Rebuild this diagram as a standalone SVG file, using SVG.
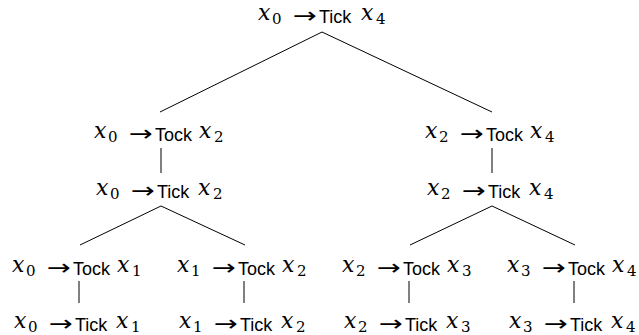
<svg xmlns="http://www.w3.org/2000/svg" width="639" height="335" viewBox="0 0 639 335">
<style>
.v{font-family:'DejaVu Serif','Liberation Serif',serif;font-style:italic;font-size:22px;fill:#000}
.s{font-family:'DejaVu Serif','Liberation Serif',serif;font-size:15px;fill:#000}
.a{font-family:'DejaVu Sans',sans-serif;font-size:22px;fill:#000}
.l{font-family:'Liberation Sans',Arial,sans-serif;font-size:18px;fill:#000}
.e line{stroke:#000;stroke-width:1}
</style>
<rect width="639" height="335" fill="#fff"/>
<g class="e" id="connectors">
<line x1="322" y1="32" x2="160" y2="112"/>
<line x1="322" y1="32" x2="492" y2="112"/>
<line x1="161" y1="148" x2="161" y2="173"/>
<line x1="492" y1="148" x2="492" y2="173"/>
<line x1="161" y1="206" x2="80" y2="245"/>
<line x1="161" y1="206" x2="245" y2="245"/>
<line x1="492" y1="206" x2="410" y2="245"/>
<line x1="492" y1="206" x2="575" y2="245"/>
<line x1="79" y1="281" x2="79" y2="303"/>
<line x1="244" y1="281" x2="244" y2="303"/>
<line x1="409" y1="281" x2="409" y2="303"/>
<line x1="574" y1="281" x2="574" y2="303"/>
</g>
<g id="n0"><text class="s"><tspan class="v" x="258" y="20">x</tspan><tspan class="s" x="272" y="23.5">0</tspan><tspan class="a" x="293" y="22.5" textLength="24" lengthAdjust="spacingAndGlyphs">→</tspan><tspan class="l" x="319" y="23">Tick</tspan><tspan class="v" x="361" y="20">x</tspan><tspan class="s" x="376" y="23.5">4</tspan></text></g>
<g id="n1"><text class="s"><tspan class="v" x="94" y="138">x</tspan><tspan class="s" x="108" y="141.5">0</tspan><tspan class="a" x="129" y="140.5" textLength="24" lengthAdjust="spacingAndGlyphs">→</tspan><tspan class="l" x="155" y="141">Tock</tspan><tspan class="v" x="199" y="138">x</tspan><tspan class="s" x="214" y="141.5">2</tspan></text></g>
<g id="n2"><text class="s"><tspan class="v" x="425" y="138">x</tspan><tspan class="s" x="439" y="141.5">2</tspan><tspan class="a" x="460" y="140.5" textLength="24" lengthAdjust="spacingAndGlyphs">→</tspan><tspan class="l" x="486" y="141">Tock</tspan><tspan class="v" x="530" y="138">x</tspan><tspan class="s" x="545" y="141.5">4</tspan></text></g>
<g id="n3"><text class="s"><tspan class="v" x="96" y="195">x</tspan><tspan class="s" x="110" y="198.5">0</tspan><tspan class="a" x="131" y="197.5" textLength="24" lengthAdjust="spacingAndGlyphs">→</tspan><tspan class="l" x="157" y="198">Tick</tspan><tspan class="v" x="198" y="195">x</tspan><tspan class="s" x="213" y="198.5">2</tspan></text></g>
<g id="n4"><text class="s"><tspan class="v" x="427" y="195">x</tspan><tspan class="s" x="441" y="198.5">2</tspan><tspan class="a" x="462" y="197.5" textLength="24" lengthAdjust="spacingAndGlyphs">→</tspan><tspan class="l" x="488" y="198">Tick</tspan><tspan class="v" x="529" y="195">x</tspan><tspan class="s" x="544" y="198.5">4</tspan></text></g>
<g id="n5"><text class="s"><tspan class="v" x="12" y="272">x</tspan><tspan class="s" x="26" y="275.5">0</tspan><tspan class="a" x="47" y="274.5" textLength="24" lengthAdjust="spacingAndGlyphs">→</tspan><tspan class="l" x="73" y="275">Tock</tspan><tspan class="v" x="117" y="272">x</tspan><tspan class="s" x="132" y="275.5">1</tspan></text></g>
<g id="n6"><text class="s"><tspan class="v" x="177" y="272">x</tspan><tspan class="s" x="191" y="275.5">1</tspan><tspan class="a" x="212" y="274.5" textLength="24" lengthAdjust="spacingAndGlyphs">→</tspan><tspan class="l" x="238" y="275">Tock</tspan><tspan class="v" x="282" y="272">x</tspan><tspan class="s" x="297" y="275.5">2</tspan></text></g>
<g id="n7"><text class="s"><tspan class="v" x="342" y="272">x</tspan><tspan class="s" x="356" y="275.5">2</tspan><tspan class="a" x="377" y="274.5" textLength="24" lengthAdjust="spacingAndGlyphs">→</tspan><tspan class="l" x="403" y="275">Tock</tspan><tspan class="v" x="447" y="272">x</tspan><tspan class="s" x="462" y="275.5">3</tspan></text></g>
<g id="n8"><text class="s"><tspan class="v" x="507" y="272">x</tspan><tspan class="s" x="521" y="275.5">3</tspan><tspan class="a" x="542" y="274.5" textLength="24" lengthAdjust="spacingAndGlyphs">→</tspan><tspan class="l" x="568" y="275">Tock</tspan><tspan class="v" x="612" y="272">x</tspan><tspan class="s" x="627" y="275.5">4</tspan></text></g>
<g id="n9"><text class="s"><tspan class="v" x="14" y="328">x</tspan><tspan class="s" x="28" y="331.5">0</tspan><tspan class="a" x="49" y="330.5" textLength="24" lengthAdjust="spacingAndGlyphs">→</tspan><tspan class="l" x="75" y="331">Tick</tspan><tspan class="v" x="116" y="328">x</tspan><tspan class="s" x="131" y="331.5">1</tspan></text></g>
<g id="n10"><text class="s"><tspan class="v" x="179" y="328">x</tspan><tspan class="s" x="193" y="331.5">1</tspan><tspan class="a" x="214" y="330.5" textLength="24" lengthAdjust="spacingAndGlyphs">→</tspan><tspan class="l" x="240" y="331">Tick</tspan><tspan class="v" x="281" y="328">x</tspan><tspan class="s" x="296" y="331.5">2</tspan></text></g>
<g id="n11"><text class="s"><tspan class="v" x="344" y="328">x</tspan><tspan class="s" x="358" y="331.5">2</tspan><tspan class="a" x="379" y="330.5" textLength="24" lengthAdjust="spacingAndGlyphs">→</tspan><tspan class="l" x="405" y="331">Tick</tspan><tspan class="v" x="446" y="328">x</tspan><tspan class="s" x="461" y="331.5">3</tspan></text></g>
<g id="n12"><text class="s"><tspan class="v" x="509" y="328">x</tspan><tspan class="s" x="523" y="331.5">3</tspan><tspan class="a" x="544" y="330.5" textLength="24" lengthAdjust="spacingAndGlyphs">→</tspan><tspan class="l" x="570" y="331">Tick</tspan><tspan class="v" x="611" y="328">x</tspan><tspan class="s" x="626" y="331.5">4</tspan></text></g>
</svg>
